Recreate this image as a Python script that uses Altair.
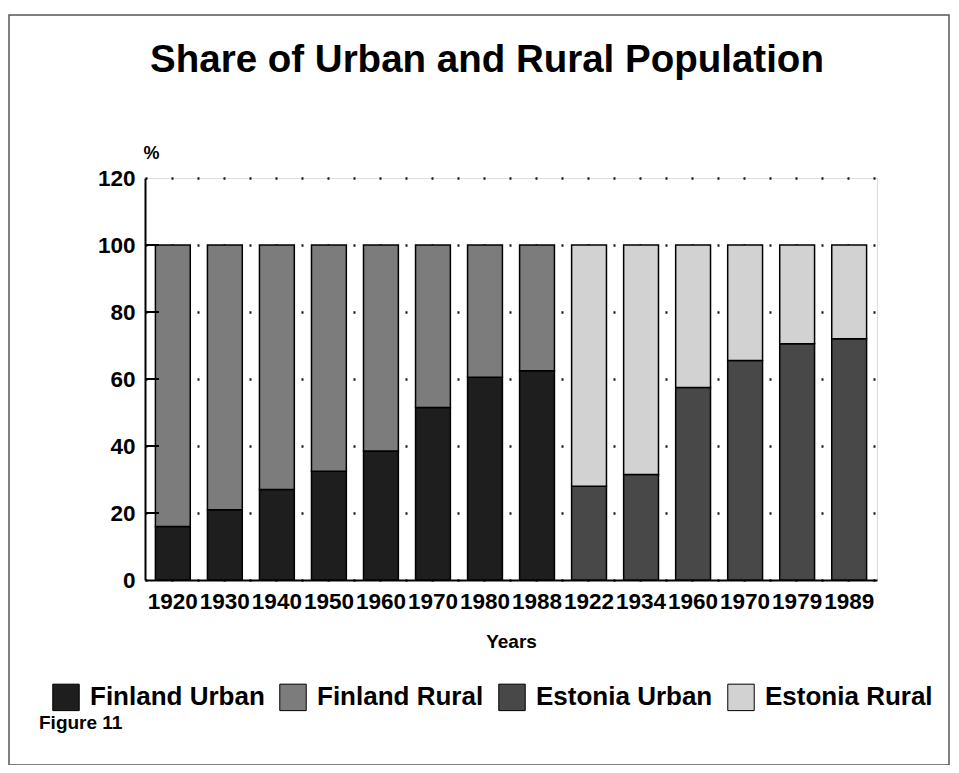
import altair as alt
import pandas as pd

fin_years = ["1920", "1930", "1940", "1950", "1960", "1970", "1980", "1988"]
fin_urban = [16, 21, 27, 32.5, 38.5, 51.5, 60.5, 62.5]
fin_rural = [84, 79, 73, 67.5, 61.5, 48.5, 39.5, 37.5]
est_years = ["1922", "1934", "1960", "1970", "1979", "1989"]
est_urban = [28, 31.5, 57.5, 65.5, 70.5, 72]
est_rural = [72, 68.5, 42.5, 34.5, 29.5, 28]
series = ["Finland Urban", "Finland Rural", "Estonia Urban", "Estonia Rural"]
colors = ["#1e1e1e", "#7c7c7c", "#484848", "#d2d2d2"]
y_ticks = [20, 40, 60, 80, 100]

rows = []
keys = []
for y, u, r in zip(fin_years, fin_urban, fin_rural):
    k = "F" + y
    keys.append(k)
    rows.append(dict(key=k, series="Finland Urban", value=u, ord=0))
    rows.append(dict(key=k, series="Finland Rural", value=r, ord=1))
for y, u, r in zip(est_years, est_urban, est_rural):
    k = "E" + y
    keys.append(k)
    rows.append(dict(key=k, series="Estonia Urban", value=u, ord=0))
    rows.append(dict(key=k, series="Estonia Rural", value=r, ord=1))
df = pd.DataFrame(rows)

FONT = "Liberation Sans"
W, H = 732, 402

bars = alt.Chart(df).mark_bar(stroke="black", strokeWidth=1.5).encode(
    x=alt.X("key:N", sort=keys,
            scale=alt.Scale(paddingInner=0.33, paddingOuter=0.2),
            axis=alt.Axis(title="Years", labelExpr="slice(datum.label, 1)",
                          labelAngle=0, labelFontSize=22.5, labelFont=FONT,
                          labelFontWeight="bold", labelColor="black",
                          labelPadding=10, ticks=False, domain=True,
                          domainColor="black", domainWidth=2,
                          titleFontSize=19, titleFont=FONT, titleFontWeight="bold",
                          titleColor="black", titlePadding=20)),
    y=alt.Y("value:Q", stack="zero",
            scale=alt.Scale(domain=[0, 120], nice=False),
            axis=alt.Axis(title="%", titleAngle=0, titleX=-2, titleY=-20,
                          titleAlign="left", titleBaseline="alphabetic",
                          titleFontSize=18, titleFont=FONT, titleFontWeight="bold",
                          titleColor="black",
                          values=[0, 20, 40, 60, 80, 100, 120],
                          labelFontSize=22.5, labelFont=FONT, labelFontWeight="bold",
                          labelColor="black", labelPadding=10, ticks=False,
                          domainColor="black", domainWidth=2,
                          grid=True, gridColor="black", gridWidth=2.5,
                          gridDash=[2, 24], gridOpacity=0.9)),
    color=alt.Color("series:N", scale=alt.Scale(domain=series, range=colors),
                    legend=alt.Legend(title=None, orient="none", legendX=-93,
                                      legendY=505, direction="horizontal",
                                      columns=4, symbolType="square",
                                      symbolSize=700, symbolStrokeColor="black",
                                      symbolStrokeWidth=1, symbolOpacity=1,
                                      labelFontSize=26, labelFont=FONT,
                                      labelFontWeight="bold", labelColor="black",
                                      columnPadding=12, labelOffset=10,
                                      labelLimit=400)),
    order=alt.Order("ord:Q", sort="ascending"),
)

ticks = alt.Chart(pd.DataFrame({"t": y_ticks})).mark_rule(
    color="black", strokeWidth=2).encode(
    y="t:Q", x=alt.value(0), x2=alt.value(14))

fig = alt.Chart(pd.DataFrame({"t": ["Figure 11"]})).mark_text(
    font=FONT, fontSize=19, fontWeight="bold", align="left", baseline="middle",
    color="black").encode(text="t:N", x=alt.value(-106), y=alt.value(545))

border = alt.Chart(pd.DataFrame({"t": [0]})).mark_rect(
    fill=None, stroke="#555555", strokeWidth=1.5).encode(
    x=alt.value(-136), x2=alt.value(W + 72), y=alt.value(-163), y2=alt.value(587))

chart = alt.layer(border, bars, ticks, fig).properties(
    width=W, height=H,
    autosize=alt.AutoSizeParams(type="none"),
    padding={"left": 137, "top": 170, "right": 74, "bottom": 185},
    title=alt.TitleParams("Share of Urban and Rural Population", fontSize=38.5,
                          font=FONT, fontWeight="bold", color="black",
                          anchor="middle", dx=-24, offset=-96,
                          baseline="alphabetic"),
).configure_view(stroke="black", strokeWidth=2).configure(background="white")

chart.save("out.html", embed_options={"renderer": "svg", "actions": False})
